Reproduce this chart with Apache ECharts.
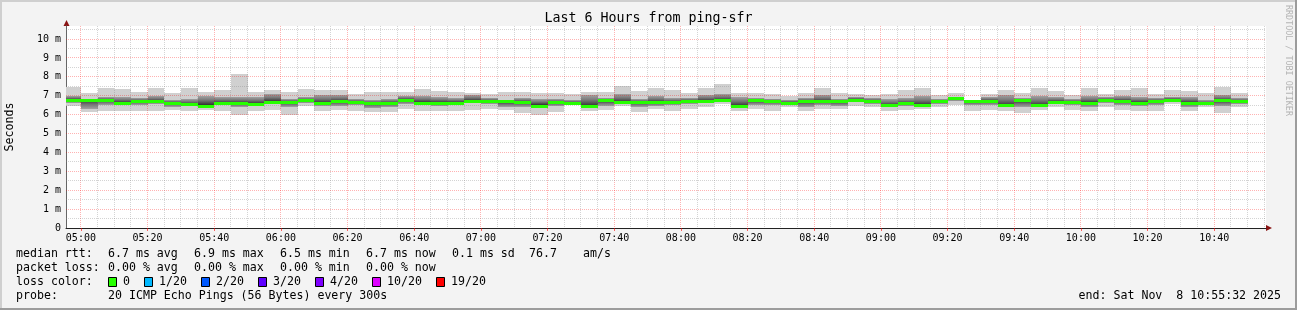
<!DOCTYPE html>
<html><head><meta charset="utf-8">
<script src="https://cdn.jsdelivr.net/npm/echarts@6/dist/echarts.min.js"></script>
<style>html,body{margin:0;padding:0;background:#f3f3f3}#c{width:1297px;height:310px}</style>
</head><body><div id="c"></div><script>
// ---------- data ----------
const titleText = 'Last 6 Hours from ping-sfr';
const axisStart = '04:55:32';
const axisEnd = '10:55:32';
const stepSeconds = 300;
const barStart = [
 '04:55','05:00','05:05','05:10','05:15','05:20','05:25','05:30','05:35','05:40','05:45','05:50','05:55',
 '06:00','06:05','06:10','06:15','06:20','06:25','06:30','06:35','06:40','06:45','06:50','06:55',
 '07:00','07:05','07:10','07:15','07:20','07:25','07:30','07:35','07:40','07:45','07:50','07:55',
 '08:00','08:05','08:10','08:15','08:20','08:25','08:30','08:35','08:40','08:45','08:50','08:55',
 '09:00','09:05','09:10','09:15','09:20','09:25','09:30','09:35','09:40','09:45','09:50','09:55',
 '10:00','10:05','10:10','10:15','10:20','10:25','10:30','10:35','10:40','10:45'];
// ping RTT in ms per 5-minute step
const pMax = [7.45,7.16,7.43,7.38,7.21,7.43,7.16,7.43,7.21,7.32,
 8.14,7.21,7.29,7.21,7.38,7.29,7.32,7.07,7.21,7.21,
 7.21,7.38,7.25,7.21,7.16,7.07,7.21,7.21,7.16,7.16,
 7.07,7.21,7.21,7.52,7.25,7.43,7.29,7.16,7.43,7.64,
 7.16,7.16,7.07,6.96,7.16,7.43,7.16,7.10,7.04,7.07,
 7.32,7.43,7.04,7.16,6.80,7.11,7.32,7.16,7.39,7.25,
 7.04,7.39,7.07,7.32,7.39,7.07,7.32,7.25,7.16,7.48,7.16];
const pHi = [7.00,6.85,6.95,6.95,6.90,7.00,6.80,6.85,7.00,6.95,
 6.95,6.95,7.10,6.85,6.95,7.05,7.05,6.85,6.75,6.85,
 7.00,7.00,6.95,6.90,7.05,6.90,6.80,6.90,6.85,6.85,
 6.80,7.05,6.90,7.10,6.85,7.00,6.90,6.90,7.05,7.10,
 6.95,6.90,6.85,6.80,6.90,7.05,6.85,6.95,6.90,6.85,
 6.90,7.00,6.85,6.95,6.80,6.95,7.05,6.90,7.00,6.95,
 6.85,7.00,6.95,7.00,6.95,6.90,6.95,6.95,6.80,7.05,6.90];
const pMedian = [6.78,6.80,6.77,6.63,6.72,6.70,6.64,6.54,6.46,6.61,
 6.61,6.57,6.69,6.68,6.75,6.62,6.70,6.67,6.59,6.62,
 6.78,6.64,6.64,6.64,6.73,6.72,6.70,6.67,6.47,6.65,
 6.61,6.47,6.75,6.66,6.67,6.66,6.65,6.73,6.72,6.75,
 6.46,6.75,6.72,6.64,6.72,6.70,6.70,6.80,6.71,6.49,
 6.59,6.52,6.70,6.86,6.70,6.72,6.49,6.75,6.49,6.67,
 6.67,6.64,6.78,6.72,6.64,6.72,6.80,6.64,6.59,6.75,6.70];
const pLo = [6.60,6.30,6.50,6.50,6.50,6.55,6.40,6.45,6.50,6.50,
 6.40,6.55,6.55,6.40,6.60,6.45,6.45,6.50,6.35,6.40,
 6.55,6.60,6.45,6.50,6.60,6.55,6.40,6.40,6.50,6.45,
 6.60,6.45,6.45,6.55,6.40,6.45,6.50,6.55,6.60,6.65,
 6.45,6.50,6.50,6.50,6.40,6.50,6.45,6.65,6.55,6.40,
 6.45,6.45,6.55,6.70,6.50,6.50,6.40,6.40,6.40,6.55,
 6.50,6.40,6.60,6.50,6.45,6.50,6.65,6.40,6.55,6.45,6.55];
const pMin = [6.45,6.12,6.18,6.21,6.18,6.21,6.27,6.18,6.27,6.18,
 6.00,6.21,6.27,5.96,6.45,6.21,6.27,6.18,6.14,6.14,
 6.32,6.21,6.18,6.21,6.27,6.32,6.27,6.09,5.96,6.12,
 6.50,6.21,6.27,6.45,6.14,6.32,6.21,6.32,6.39,6.54,
 6.21,6.32,6.21,6.39,6.21,6.32,6.32,6.45,6.39,6.18,
 6.27,6.32,6.39,6.50,6.18,6.27,6.21,6.09,6.27,6.39,
 6.27,6.18,6.39,6.27,6.21,6.21,6.54,6.18,6.39,6.09,6.39];
const xTickLabels = ['05:00','05:20','05:40','06:00','06:20','06:40','07:00','07:20','07:40',
 '08:00','08:20','08:40','09:00','09:20','09:40','10:00','10:20','10:40'];
const yTickValues = [0,1,2,3,4,5,6,7,8,9,10];
const yAxisMax = 10.69;
const rttLabel = 'median rtt:';
const rttStats = ['6.7 ms avg','6.9 ms max','6.5 ms min','6.7 ms now','0.1 ms sd','76.7','am/s'];
const lossLabel = 'packet loss:';
const lossStats = ['0.00 % avg','0.00 % max','0.00 % min','0.00 % now'];
const lossColorLabel = 'loss color:';
const lossColorNames = ['0','1/20','2/20','3/20','4/20','10/20','19/20'];
const lossColors = ['#26ff00','#00b8ff','#0059ff','#5e00ff','#7e00ff','#dd00ff','#ff0000'];
const probeLabel = 'probe:';
const probeText = '20 ICMP Echo Pings (56 Bytes) every 300s';
const endText = 'end: Sat Nov  8 10:55:32 2025';
const sideText = 'RRDTOOL / TOBI OETIKER';

// ---------- build ----------
const MONO = '"DejaVu Sans Mono", monospace';
function toSec(s){const p=s.split(':').map(Number);return p[0]*3600+p[1]*60+(p[2]||0);}
const tMin = toSec(axisStart), tMax = toSec(axisEnd);
const xTickSecs = xTickLabels.map(toSec);
function fmtTime(v){const h=Math.floor(v/3600),m=Math.round((v%3600)/60);return String(h).padStart(2,'0')+':'+String(m).padStart(2,'0');}

const smokeData = barStart.map((t,i)=>[toSec(t), pMin[i], pLo[i], pMedian[i], pHi[i], pMax[i]]);
const medData = barStart.map((t,i)=>[toSec(t), pMedian[i]]);

// grid lines: vertical every 5 min (major every 20), horizontal every 0.5 (major every 1)
const gridData = [];
for (let t = xTickSecs[0]; t < tMax; t += stepSeconds) {
  gridData.push([t, 0, 0, xTickSecs.indexOf(t) >= 0 ? 1 : 0]);
}
for (let k = 1; k * 0.5 < yAxisMax; k++) {
  const v = k * 0.5;
  gridData.push([tMin, v, 1, yTickValues.indexOf(v) >= 0 ? 1 : 0]);
}

function clipTo(params, r){
  const cs = params.coordSys;
  return echarts.graphic.clipRectByRect(r, {x:cs.x, y:cs.y, width:cs.width, height:cs.height});
}
function barX(api, t){
  const xa = Math.round(api.coord([t,0])[0]);
  const xb = Math.round(api.coord([t+stepSeconds,0])[0]);
  return [xa, xb];
}
function renderSmoke(params, api){
  const t = api.value(0);
  const mn = api.value(1), lo = api.value(2), med = api.value(3), hi = api.value(4), mx = api.value(5);
  const [xa, xb] = barX(api, t);
  const y = v => Math.round(api.coord([t, v])[1]);
  const outer = clipTo(params, {x:xa, y:y(mx), width:xb-xa, height:y(mn)-y(mx)});
  const inner = clipTo(params, {x:xa, y:y(hi), width:xb-xa, height:y(lo)-y(hi)});
  const off = Math.max(0.05, Math.min(0.95, (hi - med) / (hi - lo)));
  const grad = new echarts.graphic.LinearGradient(0,0,0,1,[
    {offset:0, color:'#a2a2a2'},{offset:off*0.5, color:'#767676'},{offset:off, color:'#363636'},
    {offset:off+(1-off)*0.5, color:'#767676'},{offset:1, color:'#a2a2a2'}]);
  const ch = [];
  if (outer) ch.push({type:'rect', shape:outer, style:{fill:'#d0d0d0'}});
  if (inner) ch.push({type:'rect', shape:inner, style:{fill:grad}});
  return {type:'group', children:ch};
}
function renderMedian(params, api){
  const t = api.value(0), med = api.value(1);
  const [xa, xb] = barX(api, t);
  const ym = Math.round(api.coord([t, med])[1]);
  const r = clipTo(params, {x:xa, y:ym-1, width:xb-xa, height:3});
  return r ? {type:'rect', shape:r, style:{fill:lossColors[0]}} : null;
}
function renderGrid(params, api){
  const cs = params.coordSys;
  const kind = api.value(2), major = api.value(3);
  const stroke = major ? 'rgba(255,0,0,0.3)' : 'rgba(128,128,128,0.34)';
  if (kind === 0) {
    const x = Math.floor(api.coord([api.value(0), 0])[0]) + 0.5;
    if (x < cs.x || x > cs.x + cs.width) return null;
    return {type:'line', shape:{x1:x, y1:cs.y, x2:x, y2:cs.y+cs.height}, style:{stroke, lineWidth:1, lineDash:[1,1]}};
  } else {
    const y = Math.floor(api.coord([tMin, api.value(1)])[1]) + 0.5;
    return {type:'line', shape:{x1:cs.x, y1:y, x2:cs.x+cs.width, y2:y}, style:{stroke, lineWidth:1, lineDash:[1,1]}};
  }
}

// ---------- legend graphics ----------
const graphics = [];
const txt = (x, y, s, extra) => graphics.push({type:'text', x, y, silent:true,
  style:Object.assign({text:s, font:'11.6px '+MONO, fill:'#000', align:'left', verticalAlign:'middle'}, extra||{})});
// frame
graphics.push({type:'rect', shape:{x:0,y:0,width:1297,height:2}, style:{fill:'#cfcfcf'}, silent:true});
graphics.push({type:'rect', shape:{x:0,y:0,width:2,height:310}, style:{fill:'#cfcfcf'}, silent:true});
graphics.push({type:'rect', shape:{x:1295,y:0,width:2,height:310}, style:{fill:'#9c9c9c'}, silent:true});
graphics.push({type:'rect', shape:{x:0,y:308,width:1297,height:2}, style:{fill:'#9c9c9c'}, silent:true});
// title
graphics.push({type:'text', x:648.5, y:19, silent:true, style:{text:titleText, font:'13.3px '+MONO, fill:'#000', align:'center', verticalAlign:'middle'}});
// side text
graphics.push({type:'text', x:1288, y:5, rotation:-Math.PI/2, silent:true, style:{text:sideText, font:'8.4px '+MONO, fill:'#b4b4b4', align:'left', verticalAlign:'middle'}});
// arrows
graphics.push({type:'polygon', shape:{points:[[63.5,26],[69.5,26],[66.5,20]]}, style:{fill:'#8a1414'}, silent:true});
graphics.push({type:'polygon', shape:{points:[[1266,225],[1266,231],[1272,228]]}, style:{fill:'#8a1414'}, silent:true});
// legend lines
const statX = [108,194,280,366,452,529,583];
txt(16, 254, rttLabel); rttStats.forEach((s,i)=>txt(statX[i], 254, s));
txt(16, 268, lossLabel); lossStats.forEach((s,i)=>txt(statX[i], 268, s));
txt(16, 282, lossColorLabel);
let bx = 108;
lossColorNames.forEach((s,i)=>{
  graphics.push({type:'rect', shape:{x:bx+0.5, y:277.5, width:8, height:9}, style:{fill:lossColors[i], stroke:'#000', lineWidth:1}, silent:true});
  txt(bx+15, 282, s);
  bx = bx + 15 + 7*s.length + 14;
});
txt(16, 296, probeLabel); txt(108, 296, probeText);
txt(1281, 296, endText, {align:'right'});

const chart = echarts.init(document.getElementById('c'), null, {renderer:'canvas'});
chart.setOption({
  animation:false,
  backgroundColor:'#f3f3f3',
  grid:{left:66, top:26, width:1200, height:202, show:true, backgroundColor:'#ffffff', borderWidth:0, containLabel:false, outerBoundsMode:'none'},
  xAxis:{type:'value', min:tMin, max:tMax,
    axisLine:{show:true, lineStyle:{color:'#222', width:1}},
    axisTick:{show:true, customValues:xTickSecs, length:3, lineStyle:{color:'rgba(255,0,0,0.6)'}},
    axisLabel:{customValues:xTickSecs, formatter:v=>fmtTime(v), margin:5, fontSize:10, fontFamily:MONO, color:'#000'},
    splitLine:{show:false}},
  yAxis:{type:'value', min:0, max:yAxisMax, interval:1,
    name:'Seconds', nameLocation:'middle', nameRotate:90, nameGap:50,
    nameTextStyle:{fontFamily:MONO, fontSize:11.6, color:'#000'},
    axisLine:{show:true, lineStyle:{color:'#666', width:1}},
    axisTick:{show:false},
    axisLabel:{customValues:yTickValues, formatter:v=>(Math.abs(v-Math.round(v))>1e-6?'':(v===0?'0':Math.round(v)+' m')), margin:5, fontSize:10, fontFamily:MONO, color:'#000'},
    splitLine:{show:false}},
  series:[
    {type:'custom', name:'smoke', renderItem:renderSmoke, data:smokeData, z:1, silent:true, clip:true},
    {type:'custom', name:'grid', renderItem:renderGrid, data:gridData, z:2, silent:true},
    {type:'custom', name:'median', renderItem:renderMedian, data:medData, z:3, silent:true, clip:true}
  ],
  graphic:graphics
});
</script></body></html>
